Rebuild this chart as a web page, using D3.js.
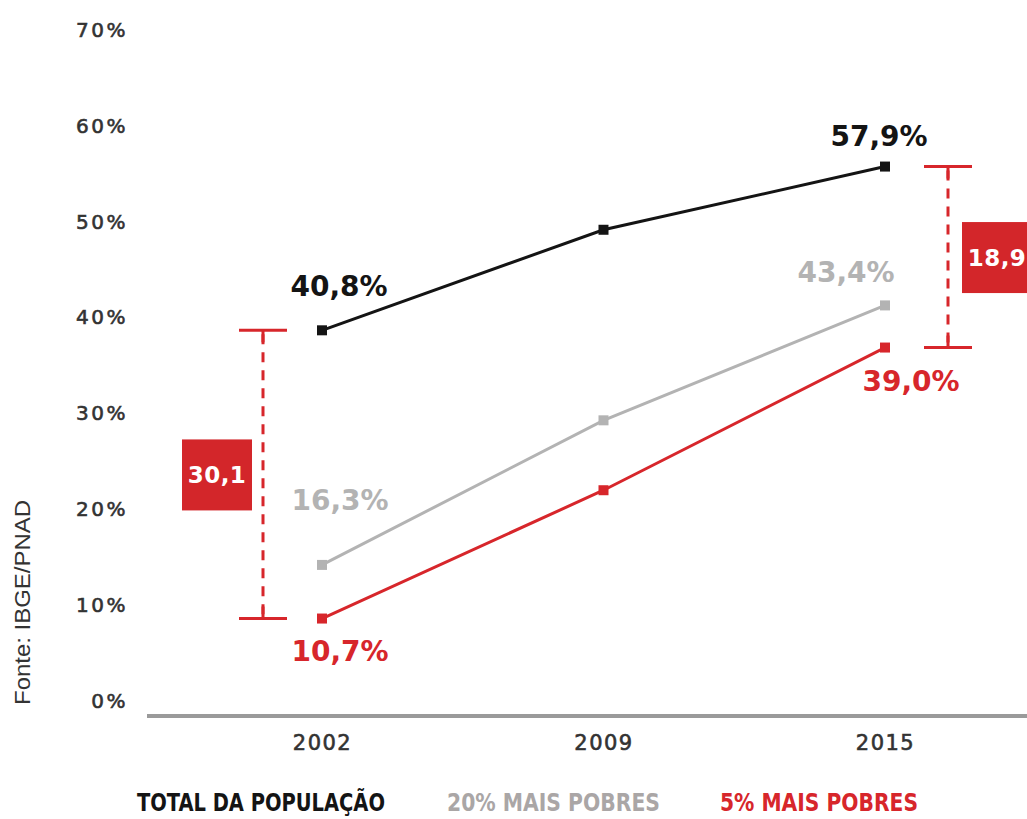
<!DOCTYPE html>
<html><head><meta charset="utf-8">
<script src="https://cdn.jsdelivr.net/npm/d3@7"></script>
<style>
html,body{margin:0;padding:0;background:#fff;}
svg{display:block;}
</style></head>
<body>
<svg id="chart" width="1027" height="819"></svg>
<script>
// ---- data ----
const years = ["2002", "2009", "2015"];
const totalPop = [40.8, 51.3, 57.9];
const poorest20 = [16.3, 31.4, 43.4];
const poorest5 = [10.7, 24.1, 39.0];
const yTicks = [0, 10, 20, 30, 40, 50, 60, 70];
const seriesNames = ["TOTAL DA POPULAÇÃO", "20% MAIS POBRES", "5% MAIS POBRES"];
const gaps = ["30,1", "18,9"];
const source = "Fonte: IBGE/PNAD";

const colors = ["#141414", "#b3b3b3", "#d7262b"];
const fmt = v => d3.format(".1f")(v).replace(".", ",") + "%";

const svg = d3.select("#chart");
const x = d3.scalePoint().domain(years).range([322, 885]);
const y = d3.scaleLinear().domain([0, 70]).range([721, 50.7]);

// y axis labels (no line)
const yAxis = svg.append("g").attr("transform", "translate(128,0)")
  .call(d3.axisLeft(y).tickValues(yTicks).tickSize(0).tickPadding(0).tickFormat(d => d + "%"));
yAxis.select(".domain").remove();
yAxis.selectAll("text")
  .attr("dy", "-0.7em")
  .attr("font-family", "DejaVu Sans, sans-serif")
  .attr("font-size", 20)
  .attr("letter-spacing", 2.5)
  .attr("fill", "#333")
  .attr("stroke", "#333").attr("stroke-width", 0.6);

// baseline
svg.append("line").attr("x1", 147).attr("x2", 1027).attr("y1", 716).attr("y2", 716)
  .attr("stroke", "#9a9a9a").attr("stroke-width", 4);

// x axis labels
const xAxis = svg.append("g").attr("transform", "translate(0,730)")
  .call(d3.axisBottom(x).tickSize(0).tickPadding(0));
xAxis.select(".domain").remove();
xAxis.selectAll("text")
  .attr("dy", "0.95em")
  .attr("font-family", "DejaVu Sans, sans-serif")
  .attr("font-size", 21)
  .attr("letter-spacing", 1.5)
  .attr("fill", "#333")
  .attr("stroke", "#333").attr("stroke-width", 0.6);

// brackets
function bracket(xc, v1, v2, label, boxX) {
  const g = svg.append("g");
  const y1 = y(v1), y2 = y(v2);
  g.append("line").attr("x1", xc).attr("x2", xc).attr("y1", y1 + 4).attr("y2", y2 - 4)
    .attr("stroke", colors[2]).attr("stroke-width", 3).attr("stroke-dasharray", "10,8");
  [y1, y2].forEach(yy => {
    g.append("line").attr("x1", xc - 24).attr("x2", xc + 24).attr("y1", yy).attr("y2", yy)
      .attr("stroke", colors[2]).attr("stroke-width", 3);
    g.append("line").attr("x1", xc).attr("x2", xc).attr("y1", yy).attr("y2", yy + (yy === y1 ? 12 : -12))
      .attr("stroke", colors[2]).attr("stroke-width", 3);
  });
  const yc = (y1 + y2) / 2;
  g.append("rect").attr("x", boxX).attr("y", yc - 35).attr("width", 70).attr("height", 71)
    .attr("fill", "#d3262a");
  g.append("text").attr("x", boxX + 35).attr("y", yc + 9).attr("text-anchor", "middle")
    .attr("font-family", "DejaVu Sans, sans-serif").attr("font-weight", "bold")
    .attr("font-size", 23).attr("letter-spacing", 0.5).attr("fill", "#fff").text(label);
}
bracket(263, totalPop[0], poorest5[0], gaps[0], 182);
bracket(948, totalPop[2], poorest5[2], gaps[1], 962);

// lines
const series = [totalPop, poorest20, poorest5];
const line = d3.line().x((d, i) => x(years[i])).y(d => y(d));
series.forEach((s, k) => {
  svg.append("path").datum(s).attr("d", line).attr("fill", "none")
    .attr("stroke", colors[k]).attr("stroke-width", 3);
  svg.selectAll(null).data(s).enter().append("rect")
    .attr("x", (d, i) => x(years[i]) - 5).attr("y", d => y(d) - 5)
    .attr("width", 10).attr("height", 10).attr("fill", colors[k]);
});

// value labels (first and last)
const labelOffsets = [
  [[17, -34], [-6, -21]],
  [[18, -55], [-39, -23]],
  [[18, 42], [26, 43]]
];
series.forEach((s, k) => {
  [0, 2].forEach((i, j) => {
    const off = labelOffsets[k][j];
    svg.append("text").attr("x", x(years[i]) + off[0]).attr("y", y(s[i]) + off[1])
      .attr("text-anchor", "middle")
      .attr("font-family", "DejaVu Sans, sans-serif").attr("font-weight", "bold")
      .attr("font-size", 28).attr("fill", colors[k]).text(fmt(s[i]));
  });
});

// legend
const legX = [137, 447, 720];
const legW = [248, 213, 198];
seriesNames.forEach((n, k) => {
  svg.append("text").attr("x", legX[k]).attr("y", 811)
    .attr("font-family", "Liberation Sans Narrow, DejaVu Sans Condensed, sans-serif")
    .attr("font-weight", "bold").attr("font-size", 25)
    .attr("textLength", legW[k]).attr("lengthAdjust", "spacingAndGlyphs")
    .attr("fill", colors[k] === "#b3b3b3" ? "#aaa6a6" : colors[k]).text(n);
});

// source
svg.append("text").attr("transform", "translate(30,705) rotate(-90)")
  .attr("font-family", "Liberation Sans, Arial, sans-serif").attr("font-size", 22)
  .attr("textLength", 205).attr("lengthAdjust", "spacingAndGlyphs")
  .attr("fill", "#333").text(source);
</script>
</body></html>
